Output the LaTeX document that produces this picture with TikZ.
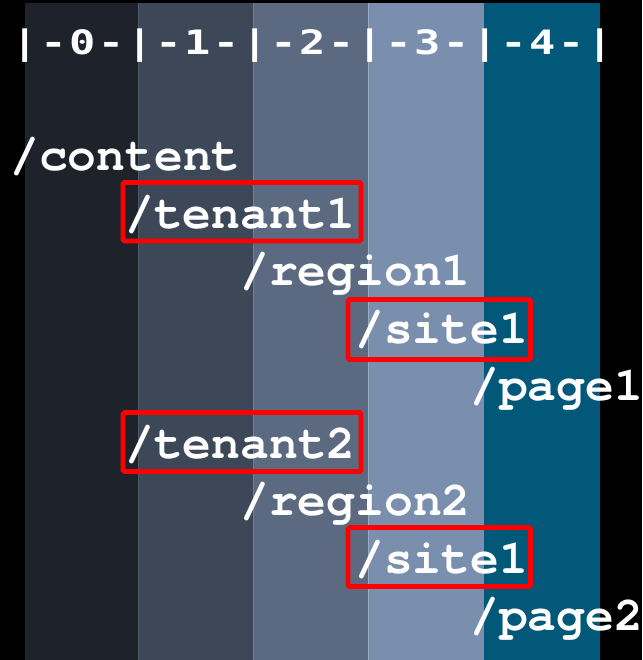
\documentclass[tikz,border=0pt]{standalone}
\usepackage{graphicx}
\usepackage{fontspec}
\newfontfamily\pathfont{texgyrecursor}[Extension=.otf, UprightFont=*-regular, BoldFont=*-bold]
\newfontfamily\rulerfont{DejaVu Sans Mono}[LetterSpace=5.6]
\definecolor{lvlA}{HTML}{1E232B}
\definecolor{lvlB}{HTML}{3C4757}
\definecolor{lvlC}{HTML}{5B6A80}
\definecolor{lvlD}{HTML}{7A8FAE}
\definecolor{lvlE}{HTML}{025878}
\definecolor{sepB}{HTML}{4E5A6B}
\definecolor{sepC}{HTML}{71809A}
\definecolor{sepD}{HTML}{9AABC4}
\definecolor{hired}{HTML}{FF0000}
\newcommand\widetext[1]{\scalebox{1.3}[1]{#1}}
\tikzset{
  path/.style={anchor=base west, inner sep=0pt, text=white,
    font=\pathfont\bfseries\fontsize{48}{48}\selectfont},
  ruler/.style={anchor=base west, inner sep=0pt, text=white,
    font=\rulerfont\bfseries\fontsize{33.6}{34}\selectfont},
  hilite/.style={draw=hired, line width=4.6pt, rounded corners=1.5pt},
  sep/.style={line width=1pt}
}
\begin{document}
\begin{tikzpicture}[x=1pt, y=-1pt]
  % canvas
  \fill[black] (0,0) rectangle (642,660);
  \useasboundingbox (0,0) rectangle (642,660);
  % depth columns
  \fill[lvlA] (25,3) rectangle (138,660);
  \fill[lvlB] (138,3) rectangle (253,660);
  \fill[lvlC] (253,3) rectangle (368,660);
  \fill[lvlD] (368,3) rectangle (484,660);
  \fill[lvlE] (484,3) rectangle (599.5,660);
  \draw[sep, sepB] (138.5,3) -- (138.5,660);
  \draw[sep, sepC] (253.5,3) -- (253.5,660);
  \draw[sep, sepD] (368.5,3) -- (368.5,660);
  % depth ruler
  \node[ruler] (ruler) at (11.5,55) {\widetext{|-0-|-1-|-2-|-3-|-4-|}};
  % path segments
  \node[path] (content) at (10,170.5) {/content};
  \node[path] (tenantA) at (125,228) {/tenant1};
  \node[path] (regionA) at (240,285.5) {/region1};
  \node[path] (siteA)   at (355,343) {/site1};
  \node[path] (pageA)   at (470,400.5) {/page1};
  \node[path] (tenantB) at (125,458) {/tenant2};
  \node[path] (regionB) at (240,515.5) {/region2};
  \node[path] (siteB)   at (355,573) {/site1};
  \node[path] (pageB)   at (470,630.5) {/page2};
  % highlighted segments
  \draw[hilite] (123,182.5) rectangle (361,241);
  \draw[hilite] (348,299.5) rectangle (530.5,359.5);
  \draw[hilite] (123,412.5) rectangle (361,471.5);
  \draw[hilite] (348,527.5) rectangle (530.5,586.5);
\end{tikzpicture}
\end{document}
